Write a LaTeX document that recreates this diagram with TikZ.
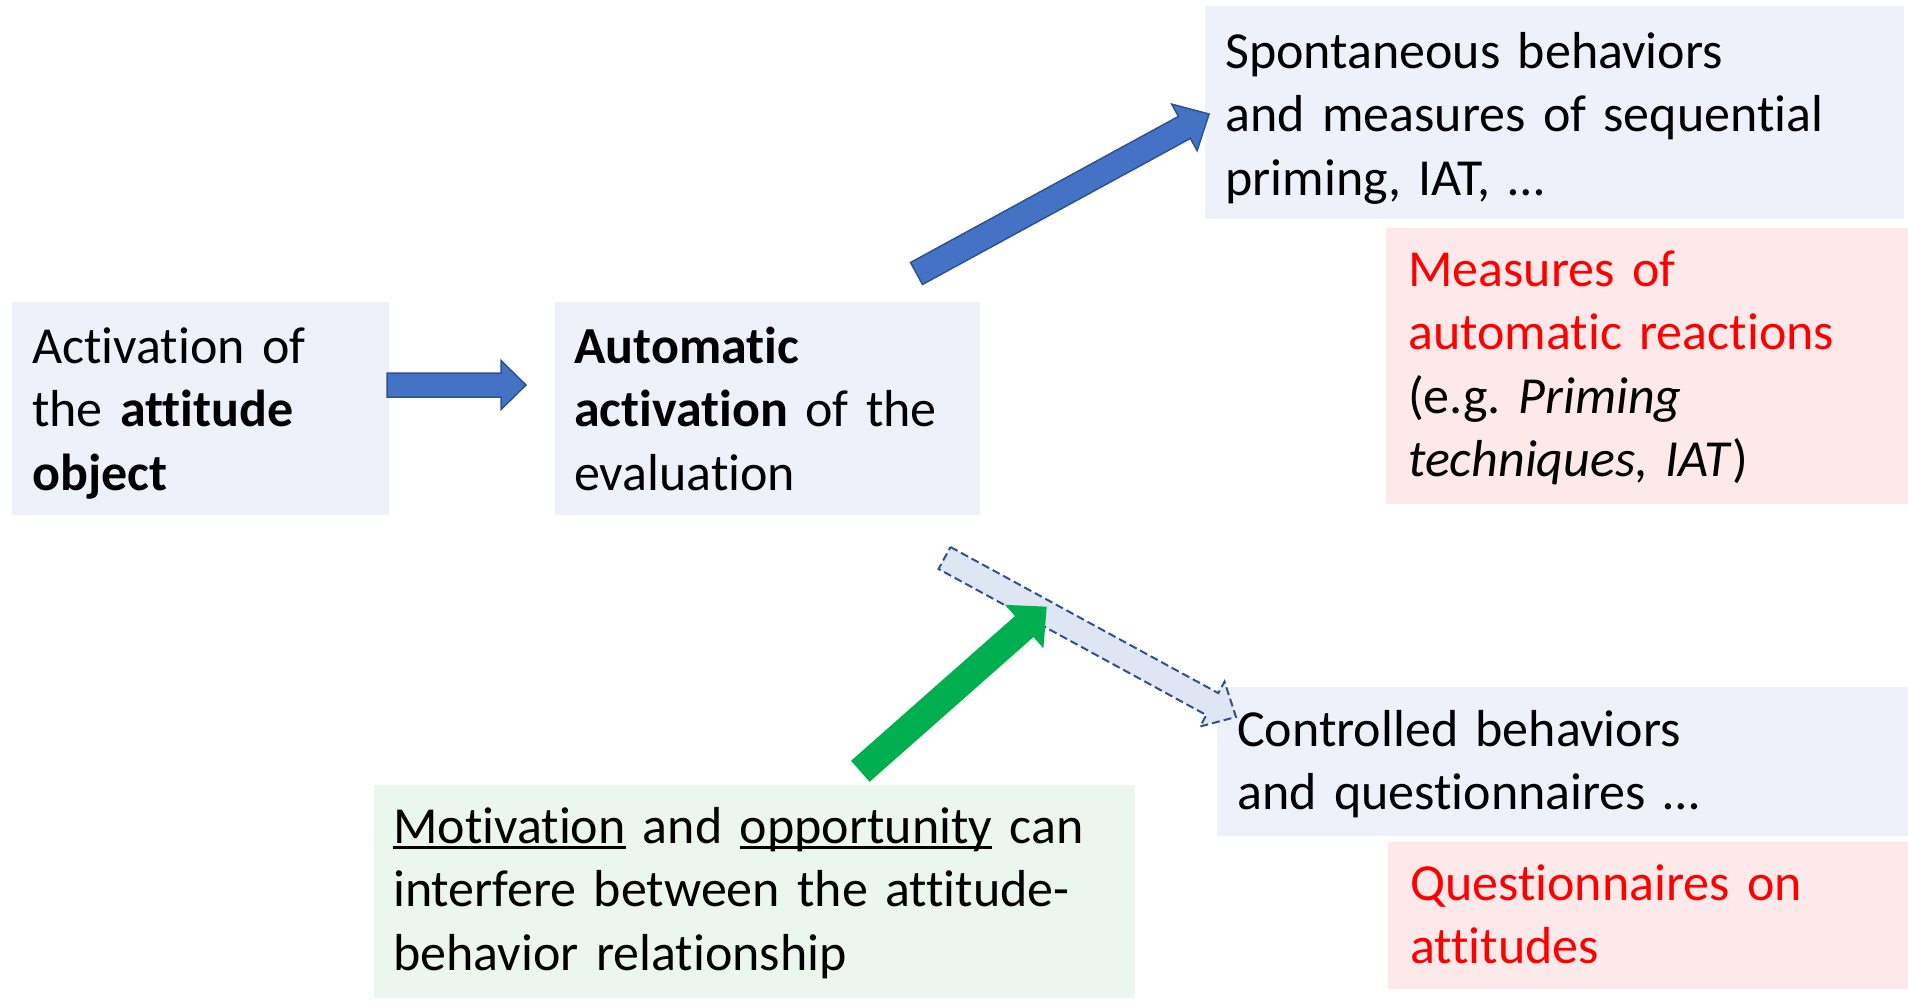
\documentclass[tikz,border=0pt]{standalone}
\usepackage{fontspec}
\setmainfont{Carlito}[Ligatures={NoCommon,NoContextual}, RawFeature={-liga;-calt}]
\usetikzlibrary{calc}
\frenchspacing

\definecolor{panelblue}{HTML}{EEF1F9}
\definecolor{panelred}{HTML}{FDE9EA}
\definecolor{panelgreen}{HTML}{EBF6EE}
\definecolor{arrowblue}{HTML}{4472C4}
\definecolor{arrowedge}{HTML}{2F528F}
\definecolor{arrowpale}{HTML}{DEE6F3}
\definecolor{arrowgreen}{HTML}{00B050}
\definecolor{textred}{HTML}{FF0000}

% thick underline sized for the large text
\newcommand\thickul[1]{\setbox0\hbox{#1}\rlap{\rule[-6pt]{\wd0}{2.6pt}}\box0\relax}

% block arrow: style, tail, tip, shaft width, head width, head length
\newcommand\blockarrow[6]{%
  \coordinate (ba-neck) at ($(#3)!#6!(#2)$);
  \draw[#1] ($(#2)!#4/2!90:(#3)$) -- ($(ba-neck)!#4/2!90:(#3)$)
    -- ($(ba-neck)!#5/2!90:(#3)$) -- (#3)
    -- ($(ba-neck)!#5/2!-90:(#3)$) -- ($(ba-neck)!#4/2!-90:(#3)$)
    -- ($(#2)!#4/2!-90:(#3)$) -- cycle;}

\begin{document}
\begin{tikzpicture}[x=1pt,y=-1pt,
  panel/.style={draw=none, inner sep=0pt, anchor=north west},
  txt/.style={inner sep=0pt, anchor=base west, text width=1000pt, align=left,
    font=\fontsize{52}{63.5}\selectfont},
  solidarrow/.style={fill=arrowblue, draw=arrowedge, line width=1.5pt, line join=miter},
  dasharrow/.style={fill=arrowpale, draw=arrowedge, line width=2pt,
    dash pattern=on 8pt off 4pt, line join=miter},
  greenarrow/.style={fill=arrowgreen, draw=none}]

\useasboundingbox (0,0) rectangle (1908,1002);

% panels
\node[panel, fill=panelblue, minimum width=377pt, minimum height=213pt] (act) at (12,302) {};
\node[panel, fill=panelblue, minimum width=425pt, minimum height=213pt] (auto) at (555,302) {};
\node[panel, fill=panelblue, minimum width=699pt, minimum height=213pt] (spont) at (1205,6) {};
\node[panel, fill=panelred, minimum width=522pt, minimum height=276pt] (autom) at (1386,228) {};
\node[panel, fill=panelblue, minimum width=691pt, minimum height=149pt] (ctrl) at (1217,687) {};
\node[panel, fill=panelred, minimum width=520pt, minimum height=147pt] (quest) at (1388,842) {};
\node[panel, fill=panelgreen, minimum width=761pt, minimum height=213pt] (motiv) at (374,785) {};

% texts
\node[txt] (actT) at (32,363) {Activation of\\the \textbf{attitude}\\\textbf{object}};
\node[txt] (autoT) at (574,363) {\textbf{Automatic}\\\textbf{activation} of the\\evaluation};
\node[txt] (spontT) at (1225,68) {Spontaneous behaviors\\and measures of sequential\\priming, IAT, …};
\node[txt] (automT) at (1408,286) {{\color{textred}Measures of\\automatic reactions}\\(e.g. \textit{Priming}\\\textit{techniques, IAT})};
\node[txt] (ctrlT) at (1237,746) {Controlled behaviors\\and questionnaires …};
\node[txt] (questT) at (1410,900) {\color{textred}Questionnaires on\\attitudes};
\node[txt] (motivT) at (393,843) {\thickul{Motivation} and \thickul{opportunity} can\\interfere between the attitude-\\behavior relationship};

% arrow end points
\coordinate (a1s) at (387,385);
\coordinate (a1e) at (526,385);
\coordinate (a2s) at (916.5,273.5);
\coordinate (a2e) at (1209,114);
\coordinate (a3s) at (944.5,558);
\coordinate (a3e) at (1236,717);
\coordinate (a4s) at (860.3,771.3);
\coordinate (a4e) at (1046.7,606.7);

% arrows
\blockarrow{solidarrow}{a1s}{a1e}{24pt}{49pt}{25pt}
\blockarrow{solidarrow}{a2s}{a2e}{25pt}{53pt}{28pt}
\blockarrow{dasharrow}{a3s}{a3e}{25pt}{51pt}{27pt}
\blockarrow{greenarrow}{a4s}{a4e}{28pt}{58pt}{30pt}
\end{tikzpicture}
\end{document}
